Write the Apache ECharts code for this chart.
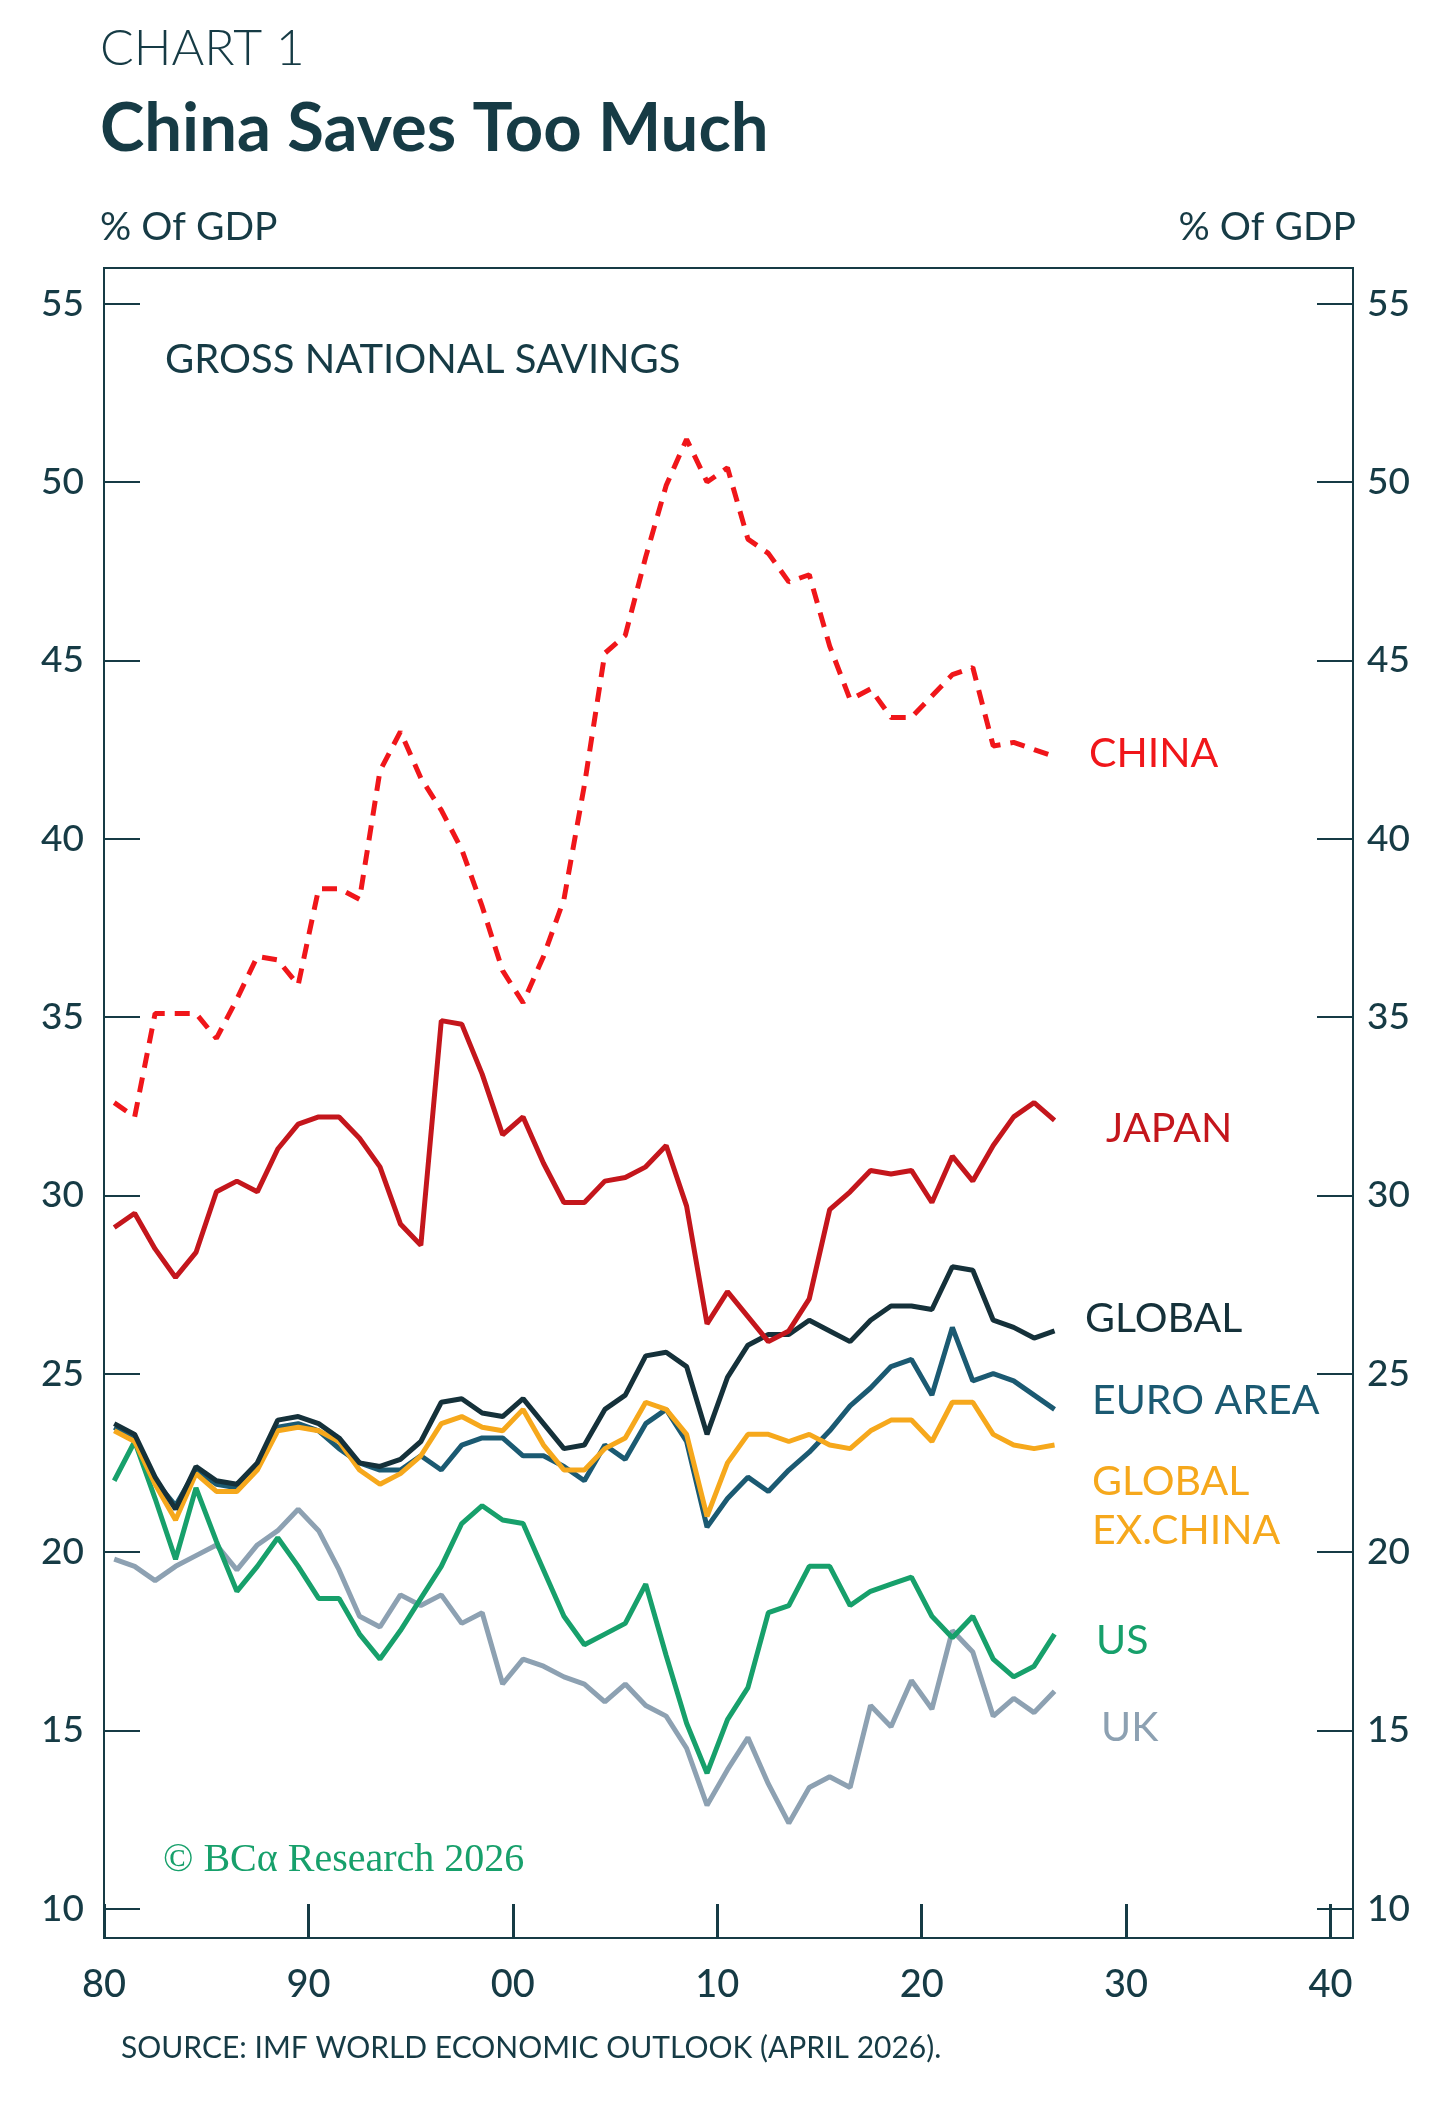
<!DOCTYPE html>
<html><head><meta charset="utf-8">
<script src="https://cdn.jsdelivr.net/npm/echarts@6/dist/echarts.min.js"></script>
<style>html,body{margin:0;padding:0;background:#fff}#c{width:1456px;height:2101px}</style>
</head><body><div id="c"></div>
<script>
const years = [];
for (let y = 1980; y <= 2026; y++) years.push(y);
const china = [32.6,32.2,35.1,35.1,35.1,34.4,35.5,36.7,36.6,35.9,38.6,38.6,38.3,41.9,43.0,41.7,40.8,39.7,38.1,36.3,35.4,36.7,38.3,41.5,45.2,45.7,47.9,49.9,51.2,50.0,50.4,48.4,48.0,47.2,47.4,45.4,43.9,44.2,43.4,43.4,44.0,44.6,44.8,42.6,42.7,42.5,42.3];
const japan = [29.1,29.5,28.5,27.7,28.4,30.1,30.4,30.1,31.3,32.0,32.2,32.2,31.6,30.8,29.2,28.6,34.9,34.8,33.4,31.7,32.2,30.9,29.8,29.8,30.4,30.5,30.8,31.4,29.7,26.4,27.3,26.6,25.9,26.2,27.1,29.6,30.1,30.7,30.6,30.7,29.8,31.1,30.4,31.4,32.2,32.6,32.1];
const globalS = [23.6,23.3,22.1,21.2,22.4,22.0,21.9,22.5,23.7,23.8,23.6,23.2,22.5,22.4,22.6,23.1,24.2,24.3,23.9,23.8,24.3,23.6,22.9,23.0,24.0,24.4,25.5,25.6,25.2,23.3,24.9,25.8,26.1,26.1,26.5,26.2,25.9,26.5,26.9,26.9,26.8,28.0,27.9,26.5,26.3,26.0,26.2];
const euro = [23.5,23.2,22.0,21.3,22.3,21.9,21.8,22.4,23.5,23.6,23.4,22.9,22.5,22.3,22.3,22.7,22.3,23.0,23.2,23.2,22.7,22.7,22.4,22.0,23.0,22.6,23.6,24.0,23.1,20.7,21.5,22.1,21.7,22.3,22.8,23.4,24.1,24.6,25.2,25.4,24.4,26.3,24.8,25.0,24.8,24.4,24.0];
const exChina = [23.4,23.1,21.9,20.9,22.2,21.7,21.7,22.3,23.4,23.5,23.4,23.1,22.3,21.9,22.2,22.7,23.6,23.8,23.5,23.4,24.0,23.0,22.3,22.3,22.9,23.2,24.2,24.0,23.3,21.0,22.5,23.3,23.3,23.1,23.3,23.0,22.9,23.4,23.7,23.7,23.1,24.2,24.2,23.3,23.0,22.9,23.0];
const us = [22.0,23.1,21.5,19.8,21.8,20.3,18.9,19.6,20.4,19.6,18.7,18.7,17.7,17.0,17.8,18.7,19.6,20.8,21.3,20.9,20.8,19.5,18.2,17.4,17.7,18.0,19.1,17.1,15.2,13.8,15.3,16.2,18.3,18.5,19.6,19.6,18.5,18.9,19.1,19.3,18.2,17.6,18.2,17.0,16.5,16.8,17.7];
const uk = [19.8,19.6,19.2,19.6,19.9,20.2,19.5,20.2,20.6,21.2,20.6,19.5,18.2,17.9,18.8,18.5,18.8,18.0,18.3,16.3,17.0,16.8,16.5,16.3,15.8,16.3,15.7,15.4,14.5,12.9,13.9,14.8,13.5,12.4,13.4,13.7,13.4,15.7,15.1,16.4,15.6,17.8,17.2,15.4,15.9,15.5,16.1];
const yTicks = [10,15,20,25,30,35,40,45,50,55];
const xTicks = [1980,1990,2000,2010,2020,2030,2040];
const xTickLabels = ['80','90','00','10','20','30','40'];

const dark = '#163b45';
const font = 'Lato, "Noto Sans", sans-serif';
const pts = arr => arr.map((v,i)=>[years[i]+0.5, v]);
const mk = (name, arr, color, dashed) => ({
  name, type:'line', data: pts(arr), symbol:'none', smooth:false,
  lineStyle:{color, width:5, type: dashed ? [15,10] : 'solid'}, itemStyle:{color}
});
const chart = echarts.init(document.getElementById('c'));
const yAx = (pos) => ({
  type:'value', position:pos, min:9.18, max:56.0,
  axisLine:{show:true, lineStyle:{color:dark, width:2}},
  axisTick:{show:true, inside:true, length:36, customValues:yTicks, lineStyle:{color:dark,width:2}},
  axisLabel:{customValues:yTicks, color:dark, fontSize:37, fontFamily:font, fontWeight:500, margin:pos==='left'?20:14},
  splitLine:{show:false}
});
chart.setOption({
  animation:false,
  backgroundColor:'#fff',
  grid:{left:104, top:268, width:1249, height:1670, show:false},
  xAxis:{type:'value', min:1980, max:2041.1,
    axisLine:{show:true, onZero:false, lineStyle:{color:dark,width:2}},
    axisTick:{show:true, inside:true, length:34, customValues:xTicks, lineStyle:{color:dark,width:3}},
    axisLabel:{customValues:xTicks, color:dark, fontSize:38, fontFamily:font, fontWeight:500, margin:28,
      formatter:v=>xTickLabels[xTicks.indexOf(Math.round(v))]},
    splitLine:{show:false}},
  yAxis:[yAx('left'), yAx('right')],
  series:[
    mk('UK', uk, '#8da1b2'),
    mk('US', us, '#17a06b'),
    mk('Euro Area', euro, '#1b5a72'),
    mk('Global ex China', exChina, '#f6a81c'),
    mk('Global', globalS, '#15313a'),
    mk('Japan', japan, '#c4161c'),
    mk('China', china, '#f0161a', true),
    {type:'line', yAxisIndex:1, data:[], silent:true}
  ],
  graphic:[
    {type:'rect', shape:{x:104,y:268,width:1249,height:1670}, style:{fill:'none', stroke:dark, lineWidth:2}, silent:true},
    {type:'text', left:100, top:24, style:{text:'CHART 1', fontSize:50, fontFamily:font, fontWeight:300, fill:dark}},
    {type:'text', left:100, top:96, style:{text:'China Saves Too Much', fontSize:67, fontFamily:font, fontWeight:'bold', fill:dark}},
    {type:'text', left:100, top:208, style:{text:'% Of GDP', fontSize:39, fontFamily:font, fill:dark}},
    {type:'text', right:100, top:208, style:{text:'% Of GDP', fontSize:39, fontFamily:font, fill:dark, align:'right'}},
    {type:'text', left:165, top:340, style:{text:'GROSS NATIONAL SAVINGS', fontSize:40, fontFamily:font, fill:dark}},
    {type:'text', left:1089, top:733, style:{text:'CHINA', fontSize:41, fontFamily:font, fill:'#f0161a'}},
    {type:'text', left:1106, top:1108, style:{text:'JAPAN', fontSize:41, fontFamily:font, fill:'#c4161c'}},
    {type:'text', left:1085, top:1298, style:{text:'GLOBAL', fontSize:41, fontFamily:font, fill:'#15313a'}},
    {type:'text', left:1092, top:1380, style:{text:'EURO AREA', fontSize:41, fontFamily:font, fill:'#1b5a72'}},
    {type:'text', left:1092, top:1457, style:{text:'GLOBAL\nEX.CHINA', fontSize:41, lineHeight:49, fontFamily:font, fill:'#f6a81c'}},
    {type:'text', left:1096, top:1620, style:{text:'US', fontSize:41, fontFamily:font, fill:'#17a06b'}},
    {type:'text', left:1101, top:1707, style:{text:'UK', fontSize:41, fontFamily:font, fill:'#8da1b2'}},
    {type:'text', left:163, top:1840, style:{text:'© BCα Research 2026', fontSize:40, fontFamily:'"Liberation Serif", serif', fill:'#17a06b'}},
    {type:'text', left:121, top:2033, style:{text:'SOURCE: IMF WORLD ECONOMIC OUTLOOK (APRIL 2026).', fontSize:30, fontFamily:font, fill:dark}}
  ]
});
</script></body></html>
